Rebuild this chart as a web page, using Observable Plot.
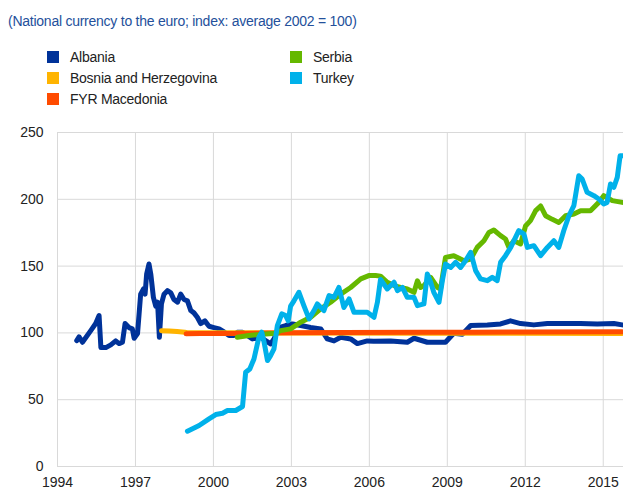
<!DOCTYPE html>
<html>
<head>
<meta charset="utf-8">
<script src="https://cdn.jsdelivr.net/npm/d3@7"></script>
<script src="https://cdn.jsdelivr.net/npm/@observablehq/plot@0.6"></script>
<style>
  html, body { margin: 0; padding: 0; background: #fff; }
  body { width: 623px; height: 490px; position: relative; overflow: hidden; font-family: "Liberation Sans", Arial, sans-serif; }
  #title { position: absolute; left: 8px; top: 13px; font-size: 14px; letter-spacing: -0.25px; color: #24509b; white-space: nowrap; }
  .leg { position: absolute; font-size: 14px; letter-spacing: -0.25px; color: #222; white-space: nowrap; line-height: 16px; }
  .sw { position: absolute; width: 12px; height: 12px; }
  #chart { position: absolute; left: 0; top: 110px; }
</style>
</head>
<body>
<div id="title">(National currency to the euro; index: average 2002 = 100)</div>
<div id="legend"></div>
<div id="chart"></div>
<script>
const seriesNames = ["Albania", "Bosnia and Herzegovina", "FYR Macedonia", "Serbia", "Turkey"];
const seriesColors = ["#003299", "#ffb400", "#ff4b00", "#65b800", "#00b1ea"];
const xTicks = [1994, 1997, 2000, 2003, 2006, 2009, 2012, 2015];
const yTicks = [0, 50, 100, 150, 200, 250];

const albania = [
  [1994.74,94.2],[1994.83,97],[1994.96,93],[1995.28,101.7],[1995.47,107],[1995.6,113],[1995.67,89],[1995.86,89],
  [1996.05,91],[1996.24,94],[1996.37,92],[1996.5,93],[1996.6,107],[1996.75,104],[1996.88,103],[1996.95,96],
  [1997.08,99.5],[1997.2,129],[1997.31,133],[1997.37,129],[1997.43,144],[1997.52,151.6],[1997.59,144],[1997.69,126.6],
  [1997.78,120],[1997.85,123],[1997.92,96.7],[1998.0,121.7],[1998.1,129],[1998.23,131.6],[1998.36,130],[1998.48,125],
  [1998.62,123],[1998.74,129],[1998.87,125],[1999.0,124],[1999.13,116.7],[1999.25,115],[1999.38,111.7],[1999.51,107],
  [1999.67,109],[1999.83,105],[2000.02,104],[2000.22,103],[2000.41,100.7],[2000.6,98],[2000.79,98],[2000.92,100.5],
  [2001.12,100.5],[2001.5,95.5],[2001.82,96.7],[2002.2,91.8],[2002.33,95.5],[2002.52,104],[2002.78,105.5],[2003.04,106.7],
  [2003.36,105.5],[2003.74,104],[2004.13,103],[2004.38,95.5],[2004.64,94],[2004.9,96.7],[2005.28,95.5],[2005.54,92],
  [2005.92,94],[2006.17,93.7],[2006.82,94],[2007.46,93],[2007.72,96],[2008.23,93],[2008.62,93],[2008.93,93],
  [2009.25,99.7],[2009.58,99],[2009.9,105.5],[2010.54,106],[2011.05,106.7],[2011.43,109],[2011.82,107],[2012.33,106],
  [2012.85,107],[2013.48,107],[2014.12,107],[2014.77,106.7],[2015.41,107],[2015.73,106]
];
const bosnia = [
  [1998.0,101.7],[1998.3,101.5],[1998.6,101],[1998.9,100.5],[1999.0,100.2],[2002.0,100],[2008.0,99.8],[2015.73,99.6]
];
const macedonia = [
  [1998.95,99.3],[1999.5,99.5],[2000.0,99.6],[2001.0,99.5],[2002.0,100],[2003.0,100.2],[2005.0,100.3],
  [2008.0,100.4],[2010.0,100.4],[2012.0,100.7],[2015.73,100.8]
];
const serbia = [
  [2000.92,96.7],[2001.36,98],[2001.88,99],[2002.4,99.7],[2002.59,101.7],[2002.97,103],[2003.36,108],[2003.74,111.7],
  [2004.13,118],[2004.51,123],[2004.9,129],[2005.28,134],[2005.67,140.4],[2005.98,142.9],[2006.24,142.9],[2006.43,142.5],
  [2006.69,137.9],[2006.95,135.4],[2007.2,134],[2007.46,132.9],[2007.72,130.4],[2007.85,139],[2007.97,134],[2008.1,135.4],
  [2008.36,141.6],[2008.62,134],[2008.74,132.9],[2008.93,156.5],[2009.25,157.8],[2009.64,154],[2009.9,155.3],[2010.15,164],
  [2010.41,169],[2010.6,175.2],[2010.79,177],[2011.05,172.8],[2011.24,170.3],[2011.37,164],[2011.56,169],[2011.82,166.6],
  [2012.01,180],[2012.2,184],[2012.4,191.5],[2012.59,195],[2012.78,187.7],[2013.04,185],[2013.29,182.7],[2013.55,187.7],
  [2013.87,189],[2014.13,191.5],[2014.51,191.5],[2014.83,197.7],[2015.02,202.7],[2015.35,199],[2015.73,197.7]
];
const turkey = [
  [1999.0,26.4],[1999.45,30.7],[1999.83,35.7],[2000.09,38.9],[2000.35,39.9],[2000.54,41.9],[2000.86,41.9],[2001.12,44.9],
  [2001.24,70.5],[2001.4,73],[2001.56,80.5],[2001.75,96.7],[2001.86,100.5],[2001.95,93],[2002.08,79.3],[2002.2,83],
  [2002.33,88],[2002.46,105.5],[2002.63,114.2],[2002.78,113],[2002.88,109],[2002.97,120],[2003.1,124],[2003.29,130.4],
  [2003.48,120.4],[2003.68,110.5],[2003.87,116.7],[2004.0,121.7],[2004.25,116.7],[2004.45,127.9],[2004.64,126.6],[2004.83,134],
  [2005.02,119],[2005.22,125.4],[2005.41,115.4],[2005.67,115.4],[2005.92,115.4],[2006.18,111.7],[2006.31,122.9],[2006.43,140],
  [2006.69,132.9],[2006.95,137.9],[2007.08,131.6],[2007.27,134],[2007.46,126.6],[2007.72,126.6],[2007.85,120.4],[2008.1,121.7],
  [2008.23,144.1],[2008.36,137.9],[2008.48,130.4],[2008.68,122.9],[2008.81,139.1],[2008.93,151.6],[2009.13,149],[2009.32,152.8],
  [2009.51,149],[2009.7,154],[2009.9,160.3],[2010.09,146.6],[2010.28,140.4],[2010.54,139.1],[2010.73,141.6],[2010.92,139.1],
  [2011.05,152.8],[2011.24,157.8],[2011.44,164],[2011.75,176.5],[2011.95,174],[2012.08,164],[2012.33,165.3],[2012.59,157.8],
  [2012.85,164],[2013.1,169],[2013.29,164],[2013.48,176.5],[2013.68,187.7],[2013.87,195.2],[2014.06,217.7],[2014.19,215.2],
  [2014.38,205.2],[2014.64,202.7],[2014.83,200.2],[2015.02,196.5],[2015.15,197.7],[2015.28,211.5],[2015.41,209],[2015.54,216.4],
  [2015.65,232.6],[2015.73,232.6]
];

const allSeries = [albania, bosnia, macedonia, serbia, turkey];
const rows = [];
allSeries.forEach((s, i) => s.forEach(([x, y]) => rows.push({name: seriesNames[i], x, y})));

// legend
const legend = document.getElementById("legend");
const legPos = [[47, 51], [47, 72], [47, 93], [290, 51], [290, 72]];
seriesNames.forEach((n, i) => {
  const [lx, ly] = legPos[i];
  const sw = document.createElement("div");
  sw.className = "sw";
  sw.style.left = lx + "px"; sw.style.top = ly + "px"; sw.style.background = seriesColors[i];
  legend.appendChild(sw);
  const t = document.createElement("div");
  t.className = "leg";
  t.style.left = (lx + 23) + "px"; t.style.top = (ly - 2) + "px";
  t.textContent = n;
  legend.appendChild(t);
});

const chart = Plot.plot({
  width: 623,
  height: 380,
  marginLeft: 57,
  marginRight: 0,
  marginTop: 22,
  marginBottom: 24,
  style: {fontFamily: "'Liberation Sans', Arial, sans-serif", fontSize: "14px", color: "#222", background: "#fff", overflow: "visible"},
  x: {domain: [1994, 2015.78], ticks: xTicks, tickFormat: d => String(d), tickSize: 0, tickPadding: 11, label: null},
  y: {domain: [0, 250], ticks: yTicks, tickSize: 0, tickPadding: 14, label: null},
  color: {domain: seriesNames, range: seriesColors},
  marks: [
    Plot.ruleX(xTicks, {stroke: "#d9d9d9", strokeWidth: 1}),
    Plot.ruleY(yTicks, {stroke: "#d9d9d9", strokeWidth: 1}),
    Plot.axisX({ticks: xTicks, tickFormat: d => String(d), tickSize: 0, tickPadding: 11, fill: "#222"}),
    Plot.axisY({ticks: yTicks, tickSize: 0, tickPadding: 14, fill: "#222"}),
    Plot.line(rows, {x: "x", y: "y", z: "name", stroke: "name", strokeWidth: 5, strokeLinejoin: "round", strokeLinecap: "round"})
  ]
});
document.getElementById("chart").appendChild(chart);
</script>
</body>
</html>
